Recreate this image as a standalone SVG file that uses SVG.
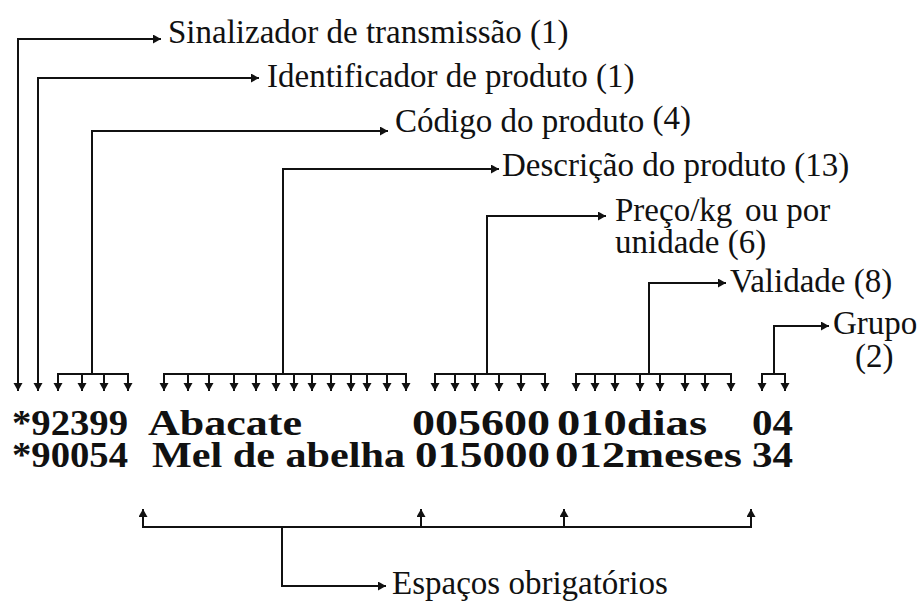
<svg xmlns="http://www.w3.org/2000/svg" width="922" height="601" viewBox="0 0 922 601">
<style>
.c{fill:none;stroke:#111;stroke-width:2}
.a{marker-end:url(#ah)}
.lbl{font-family:"Liberation Serif","Times New Roman",serif;font-size:33px;fill:#111}
.row{font-family:"Liberation Serif","Times New Roman",serif;font-size:35px;font-weight:bold;fill:#111}
</style>
<defs>
<marker id="ah" markerUnits="userSpaceOnUse" markerWidth="10" markerHeight="10" refX="8" refY="4.5" orient="auto-start-reverse">
<path d="M0,0 L8,4.5 L0,9 z" fill="#111"/>
</marker>
</defs>
<rect width="922" height="601" fill="#fff"/>
<g id="connectors">
<polyline class="c" points="18,391 18,39 161,39" marker-start="url(#ah)" marker-end="url(#ah)"/>
<polyline class="c" points="38,391 38,78 259,78" marker-start="url(#ah)" marker-end="url(#ah)"/>
<polyline class="c a" points="92,374 92,131 388,131"/>
<line class="c" x1="58" y1="374" x2="128" y2="374"/>
<g class="c a">
<line x1="58" y1="373" x2="58" y2="391"/><line x1="82" y1="374" x2="82" y2="391"/><line x1="104" y1="374" x2="104" y2="391"/><line x1="128" y1="373" x2="128" y2="391"/>
</g>
<polyline class="c a" points="283,374 283,169 499,169"/>
<line class="c" x1="164" y1="374" x2="406" y2="374"/>
<g class="c a">
<line x1="164" y1="373" x2="164" y2="391"/><line x1="188" y1="374" x2="188" y2="391"/><line x1="209" y1="374" x2="209" y2="391"/><line x1="234" y1="374" x2="234" y2="391"/><line x1="256" y1="374" x2="256" y2="391"/><line x1="276" y1="374" x2="276" y2="391"/><line x1="294" y1="374" x2="294" y2="391"/><line x1="312" y1="374" x2="312" y2="391"/><line x1="331" y1="374" x2="331" y2="391"/><line x1="351" y1="374" x2="351" y2="391"/><line x1="367" y1="374" x2="367" y2="391"/><line x1="387" y1="374" x2="387" y2="391"/><line x1="406" y1="373" x2="406" y2="391"/>
</g>
<polyline class="c a" points="487,374 487,216 606,216"/>
<line class="c" x1="435" y1="374" x2="545" y2="374"/>
<g class="c a">
<line x1="435" y1="373" x2="435" y2="391"/><line x1="455" y1="374" x2="455" y2="391"/><line x1="475" y1="374" x2="475" y2="391"/><line x1="499" y1="374" x2="499" y2="391"/><line x1="521" y1="374" x2="521" y2="391"/><line x1="545" y1="373" x2="545" y2="391"/>
</g>
<polyline class="c a" points="649,374 649,283 726,283"/>
<line class="c" x1="576" y1="374" x2="731" y2="374"/>
<g class="c a">
<line x1="576" y1="373" x2="576" y2="391"/><line x1="595" y1="374" x2="595" y2="391"/><line x1="615" y1="374" x2="615" y2="391"/><line x1="640" y1="374" x2="640" y2="391"/><line x1="660" y1="374" x2="660" y2="391"/><line x1="685" y1="374" x2="685" y2="391"/><line x1="705" y1="374" x2="705" y2="391"/><line x1="731" y1="373" x2="731" y2="391"/>
</g>
<polyline class="c a" points="774,374 774,326 829,326"/>
<line class="c" x1="762" y1="374" x2="785" y2="374"/>
<g class="c a">
<line x1="762" y1="373" x2="762" y2="391"/><line x1="785" y1="373" x2="785" y2="391"/>
</g>
<line class="c" x1="143" y1="527" x2="751" y2="527"/>
<g class="c a">
<line x1="143" y1="528" x2="143" y2="509"/><line x1="421" y1="527" x2="421" y2="509"/><line x1="564" y1="527" x2="564" y2="509"/><line x1="751" y1="528" x2="751" y2="509"/>
</g>
<polyline class="c a" points="282,527 282,586 386,586"/>
</g>
<g id="sinalizador"><text class="lbl" x="168" y="43">Sinalizador de transmissão (1)</text></g>
<g id="identificador"><text class="lbl" x="267" y="87">Identificador de produto (1)</text></g>
<g id="codigo"><text class="lbl" x="395" y="132">Código do produto <tspan dy="-3">(4)</tspan></text></g>
<g id="descricao"><text class="lbl" x="502" y="176">Descrição do produto (13)</text></g>
<g id="preco"><text class="lbl" x="615" y="221">Preço/kg</text><text class="lbl" x="745" y="221">ou por</text><text class="lbl" x="615" y="253">unidade (6)</text></g>
<g id="validade"><text class="lbl" x="730" y="292">Validade (8)</text></g>
<g id="grupo"><text class="lbl" x="833" y="334">Grupo</text><text class="lbl" x="855" y="367">(2)</text></g>
<g id="registro1">
<text class="row" x="12" y="435" textLength="116" lengthAdjust="spacingAndGlyphs">*92399</text>
<text class="row" x="148" y="435" textLength="154" lengthAdjust="spacingAndGlyphs">Abacate</text>
<text class="row" x="412" y="435" textLength="138" lengthAdjust="spacingAndGlyphs">005600</text>
<text class="row" x="557" y="435" textLength="150" lengthAdjust="spacingAndGlyphs">010dias</text>
<text class="row" x="752" y="435" textLength="41" lengthAdjust="spacingAndGlyphs">04</text>
</g>
<g id="registro2">
<text class="row" x="12" y="467" textLength="116" lengthAdjust="spacingAndGlyphs">*90054</text>
<text class="row" x="152" y="467" textLength="253" lengthAdjust="spacingAndGlyphs">Mel de abelha</text>
<text class="row" x="415" y="467" textLength="135" lengthAdjust="spacingAndGlyphs">015000</text>
<text class="row" x="555" y="467" textLength="187" lengthAdjust="spacingAndGlyphs">012meses</text>
<text class="row" x="752" y="467" textLength="41" lengthAdjust="spacingAndGlyphs">34</text>
</g>
<g id="espacos"><text class="lbl" x="392" y="594">Espaços obrigatórios</text></g>
</svg>
